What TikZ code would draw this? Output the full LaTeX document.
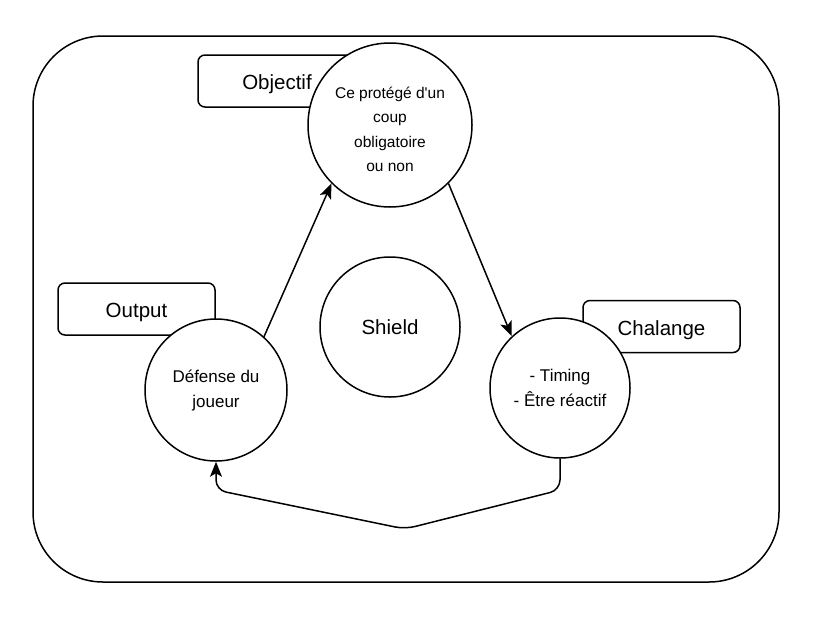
\documentclass[tikz,border=0pt]{standalone}
\usepackage{fontspec}
\setmainfont{Liberation Sans}
\usetikzlibrary{arrows.meta}

\begin{document}
\begin{tikzpicture}[x=1pt,y=-1pt,line width=1.5pt,
  labelbox/.style={draw,rounded corners=7pt,minimum width=157pt,minimum height=52pt,inner sep=0pt,text height=17.5pt,text depth=0pt,font=\fontsize{20.5}{24}\selectfont},
  phase/.style={draw,circle,fill=white,inner sep=0pt,align=center,font=\fontsize{17}{25}\selectfont},
  link/.style={-{Stealth[length=15pt,width=12pt,inset=3.5pt]}}]
\useasboundingbox (0,0) rectangle (816,627);
\draw[rounded corners=70pt] (33,36) rectangle (779,582);

% the three labels behind the circles
\node[labelbox,minimum width=158pt] (objlbl) at (277,81) {Objectif};
\node[labelbox] (outlbl) at (136.5,309) {Output};
\node[labelbox] (challbl) at (661.5,326.5) {Chalange};

\node[phase,minimum size=164pt,text height=93.5pt,text depth=0pt,font=\fontsize{15.5}{24.5}\selectfont] (obj) at (390,125) {Ce protégé d\textquotesingle un\\coup\\obligatoire\\ou non};
\node[phase,minimum size=142pt] (def) at (216,390) {Défense du\\joueur};
\node[phase,minimum size=140pt,font=\fontsize{20.5}{24}\selectfont] (shield) at (390,327) {Shield};
\node[phase,minimum size=140pt] (tim) at (560,388) {- Timing\\- Être réactif};

\draw[link] (def.48) -- (obj.225);
\draw[link] (obj.315) -- (tim.133);
\draw[link,rounded corners=10pt] (tim.south) -- (560,490) -- (405,529) -- (216,490) -- (def.south);
\end{tikzpicture}
\end{document}
